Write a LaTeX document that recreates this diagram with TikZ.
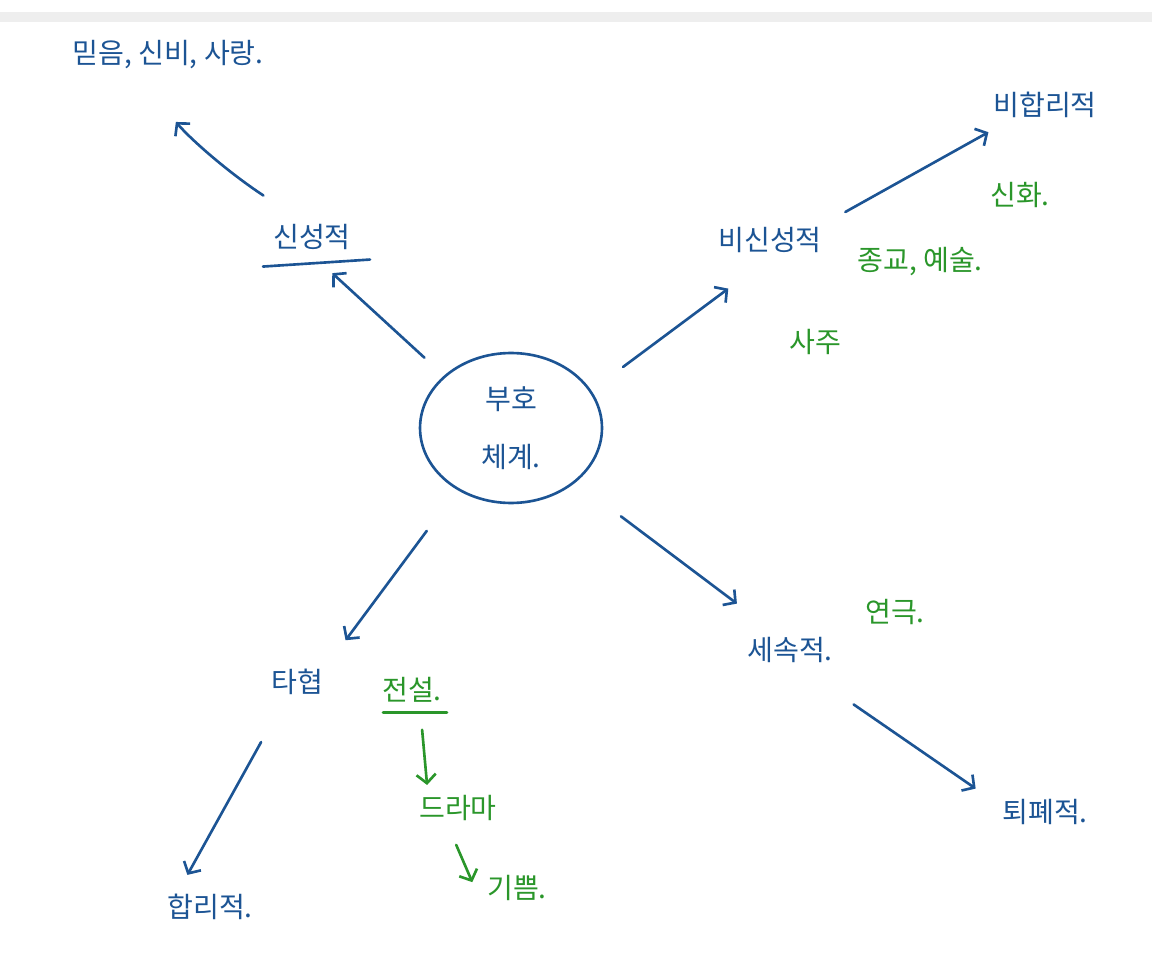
\documentclass[tikz,border=0pt]{standalone}
\usepackage{fontspec}
\newfontfamily\kofont{Noto Sans CJK KR}
\usetikzlibrary{positioning,arrows.meta,shapes.geometric}
\definecolor{penblue}{RGB}{28,84,148}
\definecolor{pengreen}{RGB}{42,150,42}
\definecolor{barGray}{RGB}{238,238,238}

\begin{document}
\begin{tikzpicture}[x=0.02cm,y=-0.02cm,line width=1.5pt]
    \tikzstyle{ink}=[draw=penblue,line cap=round,-{Straight Barb[length=5pt,width=11pt]}]
    \tikzstyle{gink}=[ink,draw=pengreen]
    \tikzstyle{word}=[text=penblue,font=\kofont\fontsize{16}{19}\selectfont,inner sep=2pt]
    \tikzstyle{gword}=[word,text=pengreen]
    \useasboundingbox (0,0) rectangle (1152,969);
    \fill[barGray] (0,12) rectangle (1152,22);

    \node[word,draw=penblue,ellipse,minimum width=3.64cm,minimum height=3cm,inner sep=0,
          align=center,font=\kofont\fontsize{16}{33}\selectfont] (hub) at (511,428) {부호\\체계.};
    \node[word] (sacred) at (312,237) {신성적};
    \node[word] (belief) at (168,55) {믿음, 신비, 사랑.};
    \node[word] (nonsacred) at (770,240) {비신성적};
    \node[word] (irrational) at (1045,105) {비합리적};
    \node[gword] (myth) at (1020,195) {신화.};
    \node[gword] (religion) at (920,262) {종교, 예술.};
    \node[gword] (fortune) at (815,342) {사주};
    \node[word] (compromise) at (297,682) {타협};
    \node[word] (rational) at (210,907) {합리적.};
    \node[gword] (legend) at (412,690) {전설.};
    \node[gword] (drama) at (458,808) {드라마};
    \node[gword] (joy) at (517,888) {기쁨.};
    \node[word] (secular) at (790,650) {세속적.};
    \node[gword] (play) at (895,612) {연극.};
    \node[word] (decadent) at (1045,812) {퇴폐적.};

    % underlines
    \draw[penblue,line cap=round] (sacred.south) ++(-49,12) -- ++(107,-7);
    \draw[pengreen,line cap=round] (legend.south) ++(-29,5) -- ++(64,0);

    \draw[ink,shorten <=0.53cm,shorten >=0.55cm] (hub.142) -- (sacred.south);
    \draw[ink,shorten <=0.87cm,shorten >=1.26cm] (sacred.125) to[bend left=8] (belief.-150);
    \draw[ink,shorten <=0.79cm,shorten >=1.04cm] (hub.25) -- (nonsacred.south);
    \draw[ink,shorten <=0.43cm] (nonsacred.north east) -- ([yshift=-0.19cm]irrational.south west);
    \draw[ink,shorten <=1.02cm,shorten >=0.6cm] (hub.229) -- (compromise.north east);
    \draw[ink,shorten <=0.97cm,shorten >=0.33cm] (compromise.-125) -- (rational.150);
    \draw[gink,shorten <=0.45cm,shorten >=0.11cm] (legend.-65) -- (drama.150);
    \draw[gink,shorten <=0.42cm,shorten >=0.51cm] (drama.-120) -- (joy.south west);
    \draw[ink,shorten <=1.13cm,shorten >=0.96cm] (hub.-40) -- (secular.130);
    \draw[ink,shorten <=1.3cm,shorten >=0.53cm] (secular.-60) -- (decadent.170);
  \end{tikzpicture}
\end{document}
